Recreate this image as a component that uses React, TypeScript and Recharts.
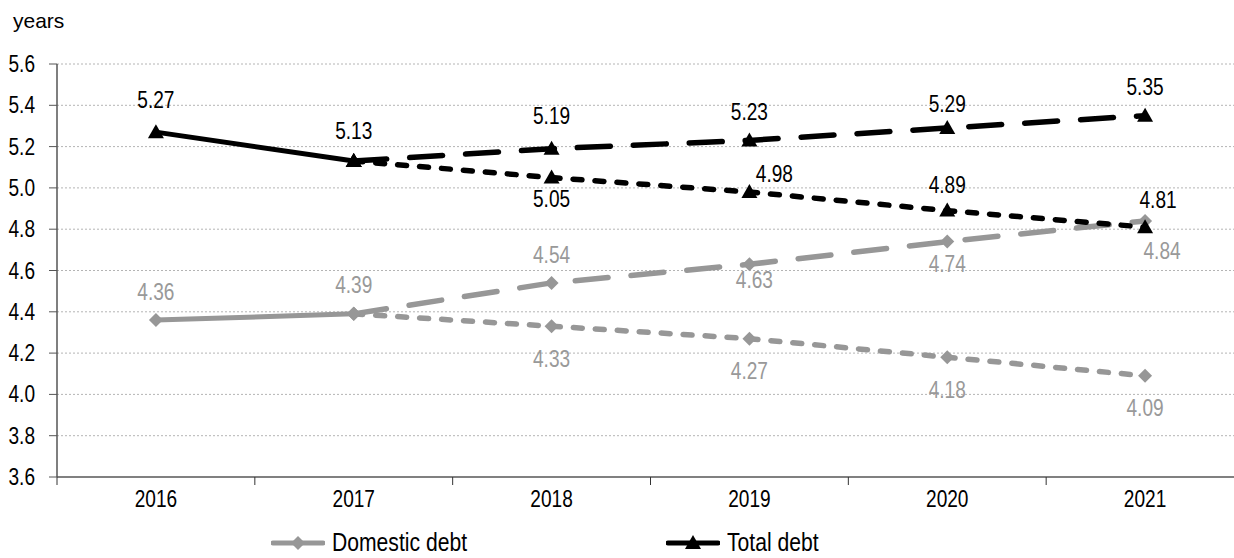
import { LineChart, Line, XAxis, YAxis, CartesianGrid, LabelList } from "recharts";

// categories and values
const years = ["2016", "2017", "2018", "2019", "2020", "2021"];
const domesticActual = [4.36, 4.39, null, null, null, null];
const domesticHigh = [null, 4.39, 4.54, 4.63, 4.74, 4.84];
const domesticLow = [null, 4.39, 4.33, 4.27, 4.18, 4.09];
const totalActual = [5.27, 5.13, null, null, null, null];
const totalHigh = [null, 5.13, 5.19, 5.23, 5.29, 5.35];
const totalLow = [null, 5.13, 5.05, 4.98, 4.89, 4.81];
const yTicks = [3.6, 3.8, 4.0, 4.2, 4.4, 4.6, 4.8, 5.0, 5.2, 5.4, 5.6];

// label placement: [dx, dy of baseline from point], null = no label
type Off = [number, number] | null;
const domActualLabels: Off[] = [[0, -20], [0, -21], null, null, null, null];
const domHighLabels: Off[] = [null, null, [0, -20], [5, 24], [0, 30], [17, 38]];
const domLowLabels: Off[] = [null, null, [0, 41], [0, 40], [0, 41], [0, 40]];
const totActualLabels: Off[] = [[0, -24], [0, -22], null, null, null, null];
const totHighLabels: Off[] = [null, null, [0, -25], [0, -20], [0, -16], [0, -21]];
const totLowLabels: Off[] = [null, null, [0, 29], [25, -10], [0, -18], [13, -19]];

const data = years.map((year, i) => ({
  x: i + 0.5,
  year,
  domActual: domesticActual[i],
  domHigh: domesticHigh[i],
  domLow: domesticLow[i],
  totActual: totalActual[i],
  totHigh: totalHigh[i],
  totLow: totalLow[i],
}));

const GREY = "#979797";
const GREY_TEXT = "#999999";
const BLACK = "#000000";
const FONT = "'Liberation Sans', Arial, sans-serif";
const SQUEEZE = 0.83; // fake Arial Narrow
const LONG_DASH = "33 23";
const SHORT_DASH = "9 13";

// narrow text: baseline at (x, y)
function NText({ x, y, anchor, color, children }: any) {
  return (
    <text
      transform={`translate(${x},${y}) scale(${SQUEEZE},1)`}
      x={0}
      y={0}
      textAnchor={anchor}
      fill={color}
      fontSize={23}
      fontFamily={FONT}
    >
      {children}
    </text>
  );
}

const triangle = (props: any) => {
  const { cx, cy, key, value } = props;
  if (value == null || cx == null || cy == null) return <g key={key} />;
  return (
    <path
      key={key}
      d={`M${cx},${cy - 8} L${cx + 8},${cy + 6} L${cx - 8},${cy + 6} Z`}
      fill={BLACK}
    />
  );
};

const diamond = (props: any) => {
  const { cx, cy, key, value } = props;
  if (value == null || cx == null || cy == null) return <g key={key} />;
  return (
    <path
      key={key}
      d={`M${cx},${cy - 7} L${cx + 7},${cy} L${cx},${cy + 7} L${cx - 7},${cy} Z`}
      fill={GREY}
    />
  );
};

const makeLabel = (offsets: Off[], color: string) => (props: any) => {
  const { x, y, value, index } = props;
  const off = offsets[index];
  if (value == null || off == null) return null;
  return (
    <NText x={x + off[0]} y={y + off[1]} anchor="middle" color={color}>
      {Number(value).toFixed(2)}
    </NText>
  );
};

const YTick = (props: any) => {
  const { x, y, payload } = props;
  return (
    <NText x={x} y={y + 8} anchor="end" color="#000">
      {Number(payload.value).toFixed(1)}
    </NText>
  );
};

const XTick = (props: any) => {
  const { x, y, payload } = props;
  return (
    <NText x={x} y={y + 29} anchor="middle" color="#000">
      {years[Math.floor(payload.value)]}
    </NText>
  );
};

function LegendItem({ label, color, marker }: { label: string; color: string; marker: "tri" | "dia" }) {
  return (
    <div style={{ display: "flex", alignItems: "center" }}>
      <svg width={54} height={20}>
        <line x1={2} y1={10} x2={52} y2={10} stroke={color} strokeWidth={5} strokeLinecap="round" />
        {marker === "tri" ? (
          <path d="M27,2 L35,16 L19,16 Z" fill={color} />
        ) : (
          <path d="M27,3 L34,10 L27,17 L20,10 Z" fill={color} />
        )}
      </svg>
      <span
        style={{
          fontFamily: FONT,
          fontSize: 25,
          color: "#000",
          marginLeft: 7,
          display: "inline-block",
          transform: `scaleX(0.845)`,
          transformOrigin: "left center",
          whiteSpace: "nowrap",
        }}
      >
        {label}
      </span>
    </div>
  );
}

export default function App() {
  return (
    <div
      style={{
        position: "absolute",
        left: 0,
        top: 0,
        width: 1234,
        height: 558,
        overflow: "hidden",
        background: "#fff",
      }}
    >
      <div
        style={{
          position: "absolute",
          left: 13,
          top: 9,
          fontFamily: FONT,
          fontSize: 21,
        }}
      >
        years
      </div>
      <LineChart
        width={1260}
        height={522}
        data={data}
        margin={{ top: 64, right: 16, left: 0, bottom: 0 }}
      >
        <CartesianGrid
          xAxisId="a_ticks"
          vertical={false}
          stroke="#b4b4b4"
          strokeDasharray="2 2"
          horizontalValues={yTicks}
        />
        <XAxis
          xAxisId="a_ticks"
          dataKey="x"
          type="number"
          domain={[0, 6]}
          ticks={[0, 1, 2, 3, 4, 5, 6]}
          tickFormatter={() => ""}
          height={1}
          tickSize={8}
          axisLine={{ stroke: "#808080", strokeWidth: 2 }}
          tickLine={{ stroke: "#333" }}
        />
        <XAxis
          xAxisId="b_labels"
          dataKey="x"
          type="number"
          domain={[0, 6]}
          ticks={[0.5, 1.5, 2.5, 3.5, 4.5, 5.5]}
          height={44}
          axisLine={false}
          tickLine={false}
          tickSize={0}
          tickMargin={0}
          tick={<XTick />}
        />
        <YAxis
          type="number"
          domain={[3.6, 5.6]}
          ticks={yTicks}
          width={57}
          tickSize={8}
          tickMargin={14}
          axisLine={{ stroke: "#555", strokeWidth: 1.5 }}
          tickLine={{ stroke: "#555" }}
          tick={<YTick />}
        />
        <Line
          xAxisId="a_ticks"
          dataKey="domHigh"
          stroke={GREY}
          strokeWidth={5.5}
          strokeDasharray={LONG_DASH}
          strokeLinecap="round"
          dot={diamond}
          activeDot={false}
          isAnimationActive={false}
        >
          <LabelList dataKey="domHigh" content={makeLabel(domHighLabels, GREY_TEXT)} />
        </Line>
        <Line
          xAxisId="a_ticks"
          dataKey="domLow"
          stroke={GREY}
          strokeWidth={5.5}
          strokeDasharray={SHORT_DASH}
          strokeLinecap="round"
          dot={diamond}
          activeDot={false}
          isAnimationActive={false}
        >
          <LabelList dataKey="domLow" content={makeLabel(domLowLabels, GREY_TEXT)} />
        </Line>
        <Line
          xAxisId="a_ticks"
          dataKey="domActual"
          stroke={GREY}
          strokeWidth={5}
          dot={diamond}
          activeDot={false}
          isAnimationActive={false}
        >
          <LabelList dataKey="domActual" content={makeLabel(domActualLabels, GREY_TEXT)} />
        </Line>
        <Line
          xAxisId="a_ticks"
          dataKey="totHigh"
          stroke={BLACK}
          strokeWidth={5.5}
          strokeDasharray={LONG_DASH}
          strokeLinecap="round"
          dot={triangle}
          activeDot={false}
          isAnimationActive={false}
        >
          <LabelList dataKey="totHigh" content={makeLabel(totHighLabels, BLACK)} />
        </Line>
        <Line
          xAxisId="a_ticks"
          dataKey="totLow"
          stroke={BLACK}
          strokeWidth={5.5}
          strokeDasharray={SHORT_DASH}
          strokeLinecap="round"
          dot={triangle}
          activeDot={false}
          isAnimationActive={false}
        >
          <LabelList dataKey="totLow" content={makeLabel(totLowLabels, BLACK)} />
        </Line>
        <Line
          xAxisId="a_ticks"
          dataKey="totActual"
          stroke={BLACK}
          strokeWidth={5}
          dot={triangle}
          activeDot={false}
          isAnimationActive={false}
        >
          <LabelList dataKey="totActual" content={makeLabel(totActualLabels, BLACK)} />
        </Line>
      </LineChart>
      <div style={{ position: "absolute", left: 271, top: 528 }}>
        <LegendItem label="Domestic debt" color={GREY} marker="dia" />
      </div>
      <div style={{ position: "absolute", left: 666, top: 528 }}>
        <LegendItem label="Total debt" color={BLACK} marker="tri" />
      </div>
    </div>
  );
}
